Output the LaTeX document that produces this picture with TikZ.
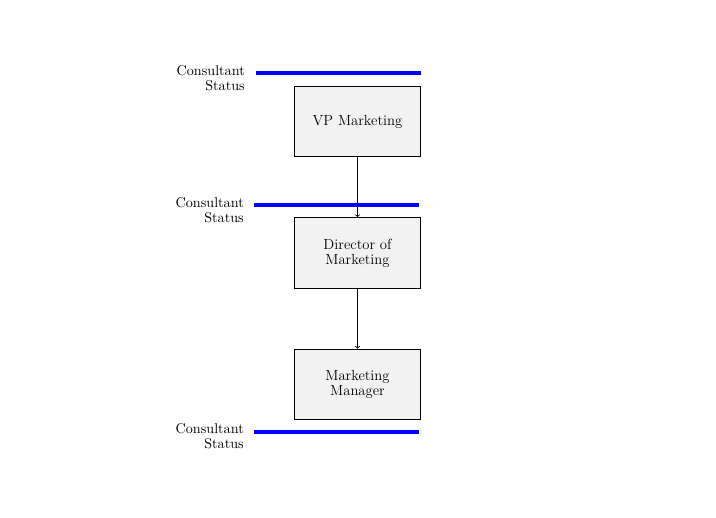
\documentclass[tikz,border=0pt]{standalone}
\usetikzlibrary{positioning}
\tikzset{
  posten/.style={draw, line width=0.6pt, fill=black!5, minimum width=95pt, minimum height=53pt, align=center, inner sep=2pt, font=\fontsize{11}{11.25}\selectfont},
  statuslinie/.style={blue, line width=2.3pt},
  statustext/.style={anchor=east, align=right, inner sep=0pt, font=\fontsize{10.6}{11.25}\selectfont}
}
\begin{document}
\begin{tikzpicture}[x=0.75pt,y=-0.75pt]
  \useasboundingbox (0,0) rectangle (716,517);

  % Stellen
  \node[posten] (vp) at (357.5,121.5) {VP Marketing};
  \node[posten, below=45pt of vp] (dir) {Director of\\Marketing};
  \node[posten, below=45pt of dir] (mgr) {Marketing\\Manager};

  % Verbindungen
  \draw[->, line width=0.6pt] (vp) -- (dir);
  \draw[->, line width=0.6pt] (dir) -- (mgr);

  % Statuslinien
  \draw[statuslinie] (256,73) -- (421,73);
  \draw[statuslinie] (254,205) -- (419,205);
  \draw[statuslinie] (254,432) -- (419,432);

  % Beschriftung der Statuslinien
  \node[statustext] (st1) at (245,78) {Consultant\\Status};
  \node[statustext] (st2) at (244,210.5) {Consultant\\Status};
  \node[statustext] (st3) at (244,436.5) {Consultant\\Status};
\end{tikzpicture}
\end{document}
